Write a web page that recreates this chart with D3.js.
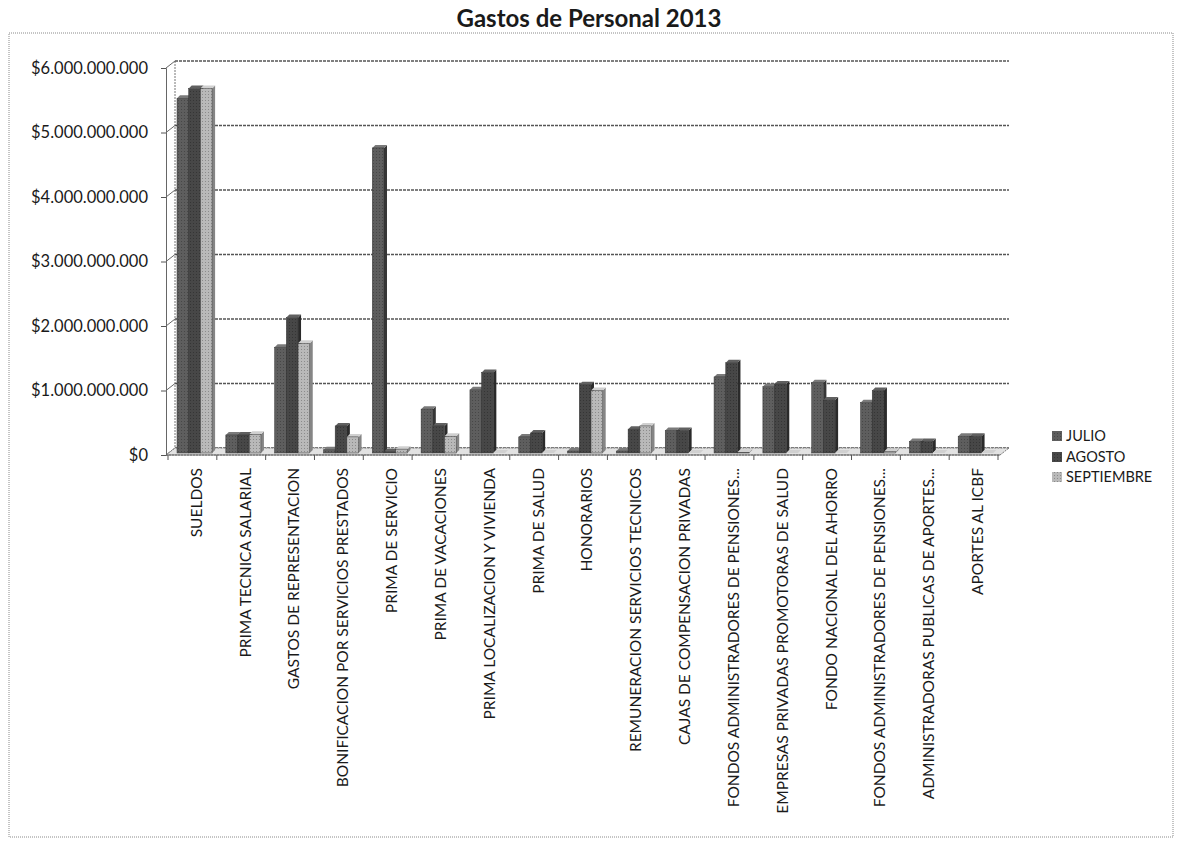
<!DOCTYPE html>
<html>
<head>
<meta charset="utf-8">
<script src="https://cdn.jsdelivr.net/npm/d3@7"></script>
<style>
  body { margin: 0; background: #fff; }
  text { font-family: Lato, "Open Sans", sans-serif; fill: #1a1a1a; }
</style>
</head>
<body>
<div id="chart"></div>
<script>
var w = 1177, h = 842;

var categories = [
  "SUELDOS",
  "PRIMA TECNICA SALARIAL",
  "GASTOS DE REPRESENTACION",
  "BONIFICACION POR SERVICIOS PRESTADOS",
  "PRIMA DE SERVICIO",
  "PRIMA DE VACACIONES",
  "PRIMA LOCALIZACION Y VIVIENDA",
  "PRIMA DE SALUD",
  "HONORARIOS",
  "REMUNERACION SERVICIOS TECNICOS",
  "CAJAS DE COMPENSACION PRIVADAS",
  "FONDOS ADMINISTRADORES DE PENSIONES...",
  "EMPRESAS PRIVADAS PROMOTORAS DE SALUD",
  "FONDO NACIONAL DEL AHORRO",
  "FONDOS ADMINISTRADORES DE PENSIONES...",
  "ADMINISTRADORAS PUBLICAS DE APORTES...",
  "APORTES AL ICBF"
];

var series = ["JULIO", "AGOSTO", "SEPTIEMBRE"];

// valores en pesos
var julio = [5500000000, 280000000, 1640000000, 50000000, 4730000000, 680000000, 980000000, 250000000,
  30000000, 30000000, 350000000, 1180000000, 1030000000, 1090000000, 780000000, 180000000, 260000000];
var agosto = [5650000000, 280000000, 2100000000, 420000000, 20000000, 420000000, 1250000000, 310000000,
  1060000000, 370000000, 350000000, 1400000000, 1070000000, 820000000, 970000000, 180000000, 260000000];
var septiembre = [5650000000, 290000000, 1700000000, 250000000, 60000000, 260000000, 0, 0,
  970000000, 420000000, 0, 10000000, 0, 0, 20000000, 0, 0];

var yTicks = [0, 1000000000, 2000000000, 3000000000, 4000000000, 5000000000, 6000000000];

var values = [julio, agosto, septiembre];
var front = ["#5e5e5e", "#474747", "#b9b9b9"];
var side = ["#363636", "#2a2a2a", "#858585"];
var topc = ["#7a7a7a", "#606060", "#d0d0d0"];

// profundidad del efecto 3D
var depthX = 9, depthY = -7;
var barDX = 3, barDY = -3;

var svg = d3.select("#chart").append("svg").attr("width", w).attr("height", h);

// textura tipo escaneo
var defs = svg.append("defs");
front.forEach(function (c, i) {
  var p = defs.append("pattern").attr("id", "tex" + i).attr("patternUnits", "userSpaceOnUse")
    .attr("width", 3).attr("height", 3);
  p.append("rect").attr("width", 3).attr("height", 3).attr("fill", c);
  p.append("rect").attr("x", 1).attr("y", 1).attr("width", 1).attr("height", 1)
    .attr("fill", d3.color(c).darker(0.8));
});

svg.append("rect").attr("x", 9).attr("y", 33).attr("width", 1164).attr("height", 804)
  .attr("fill", "none").attr("stroke", "#8a8a8a").attr("stroke-dasharray", "1,1");

svg.append("text").attr("x", 589).attr("y", 27).attr("text-anchor", "middle")
  .style("font-size", "24px").style("font-weight", "bold").text("Gastos de Personal 2013");

var x = d3.scaleBand().domain(d3.range(categories.length)).range([168, 998]).padding(0);
var y = d3.scaleLinear().domain([0, 6000000000]).range([455, 68]);

var g = svg.append("g");

// pared del fondo y piso
g.append("line").attr("x1", 166 + depthX).attr("x2", 166 + depthX)
  .attr("y1", y(6000000000) + depthY).attr("y2", y(0) + depthY)
  .attr("stroke", "#777").attr("stroke-dasharray", "2,1");

g.selectAll(".grid").data(yTicks).enter().append("line")
  .attr("x1", 166 + depthX).attr("x2", 1000 + depthX)
  .attr("y1", function (d) { return y(d) + depthY; })
  .attr("y2", function (d) { return y(d) + depthY; })
  .attr("stroke", "#555").attr("stroke-width", 1.3).attr("stroke-dasharray", "3,1");

g.selectAll(".diag").data(yTicks).enter().append("line")
  .attr("x1", 166).attr("x2", 166 + depthX)
  .attr("y1", function (d) { return y(d); })
  .attr("y2", function (d) { return y(d) + depthY; })
  .attr("stroke", "#666");

g.append("path")
  .attr("d", "M166," + y(0) + "L1000," + y(0) + "L" + (1000 + depthX) + "," + (y(0) + depthY) +
    "L" + (166 + depthX) + "," + (y(0) + depthY) + "Z")
  .attr("fill", "#e2e2e2").attr("stroke", "#777").attr("stroke-dasharray", "2,1");

// ejes
g.append("g").attr("transform", "translate(166,0)")
  .call(d3.axisLeft(y).tickValues(yTicks).tickSize(5).tickFormat(function (d) {
    return "$" + d3.format(",")(d).replace(/,/g, ".");
  }))
  .call(function (a) {
    a.select(".domain").attr("stroke", "#666");
    a.selectAll(".tick line").attr("stroke", "#555");
    a.selectAll("text").attr("x", -18).style("font-size", "16.5px")
      .style("font-family", "Lato, sans-serif").attr("fill", "#1a1a1a");
  });

g.append("line").attr("x1", 166).attr("x2", 1000).attr("y1", y(0)).attr("y2", y(0)).attr("stroke", "#666");
g.selectAll(".xt").data(d3.range(categories.length + 1)).enter().append("line")
  .attr("x1", function (d) { return 168 + d * x.bandwidth(); })
  .attr("x2", function (d) { return 168 + d * x.bandwidth(); })
  .attr("y1", y(0)).attr("y2", y(0) + 5).attr("stroke", "#555");

// barras
var barW = 11.7, groupOff = 9;
categories.forEach(function (c, i) {
  series.forEach(function (s, j) {
    var v = values[j][i];
    var x0 = x(i) + groupOff + j * barW, x1 = x0 + barW;
    var yb = y(0) - 2, yt = y(v) - 2;
    if (yt > yb) yt = yb;
    var bar = g.append("g");
    bar.append("path")
      .attr("d", "M" + x1 + "," + yb + "L" + (x1 + barDX) + "," + (yb + barDY) + "L" + (x1 + barDX) + "," + (yt + barDY) +
        "L" + x1 + "," + yt + "Z")
      .attr("fill", side[j]);
    bar.append("path")
      .attr("d", "M" + x0 + "," + yt + "L" + (x0 + barDX) + "," + (yt + barDY) + "L" + (x1 + barDX) + "," + (yt + barDY) +
        "L" + x1 + "," + yt + "Z")
      .attr("fill", topc[j]);
    if (yb - yt > 0) {
      bar.append("rect").attr("x", x0).attr("y", yt).attr("width", barW).attr("height", yb - yt)
        .attr("fill", "url(#tex" + j + ")").attr("stroke", "#333").attr("stroke-width", 0.5);
    }
  });
});

// etiquetas de categoria
g.selectAll(".cat").data(categories).enter().append("text")
  .attr("transform", function (d, i) {
    return "translate(" + (x(i) + x.bandwidth() / 2 + 4) + ",468) rotate(-90)";
  })
  .attr("text-anchor", "end").attr("dy", "0.35em")
  .style("font-size", "15.5px")
  .text(function (d) { return d; });

// leyenda
var legY = [436, 457, 477];
series.forEach(function (s, j) {
  svg.append("rect").attr("x", 1052).attr("y", legY[j] - 5).attr("width", 10).attr("height", 10)
    .attr("fill", "url(#tex" + j + ")");
  svg.append("text").attr("x", 1066).attr("y", legY[j]).attr("dy", "0.35em")
    .style("font-size", "14.5px").text(s);
});
</script>
</body>
</html>
